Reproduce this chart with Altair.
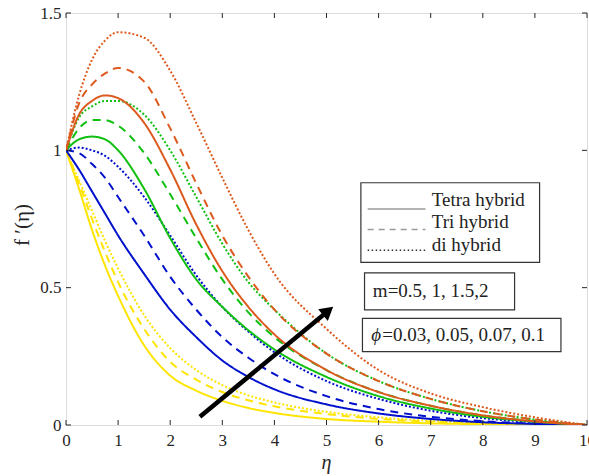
import altair as alt
import pandas as pd

# ---------------- data ----------------
eta = [0, 0.25, 0.5, 0.75, 1, 1.5, 2, 2.5, 3, 3.5, 4, 5, 6, 7, 8, 9, 10]

yellow_tetra = [1, 0.86, 0.71, 0.58, 0.47, 0.29, 0.18, 0.125, 0.088, 0.062, 0.044, 0.022, 0.012, 0.006, 0.003, 0.001, 0]
yellow_tri   = [1, 0.88, 0.75, 0.63, 0.52, 0.35, 0.23, 0.165, 0.12, 0.09, 0.068, 0.04, 0.022, 0.012, 0.006, 0.002, 0]
yellow_di    = [1, 0.89, 0.78, 0.67, 0.57, 0.40, 0.28, 0.20, 0.145, 0.108, 0.082, 0.048, 0.028, 0.015, 0.007, 0.003, 0]
blue_tetra   = [1, 0.93, 0.85, 0.77, 0.69, 0.55, 0.42, 0.32, 0.235, 0.175, 0.13, 0.075, 0.042, 0.022, 0.01, 0.004, 0]
blue_tri     = [1, 0.99, 0.95, 0.90, 0.83, 0.69, 0.54, 0.42, 0.32, 0.245, 0.185, 0.105, 0.058, 0.03, 0.014, 0.005, 0]
blue_di      = [1, 1.01, 1.0, 0.98, 0.94, 0.83, 0.69, 0.545, 0.43, 0.34, 0.265, 0.16, 0.095, 0.052, 0.025, 0.01, 0]
green_tetra  = [1, 1.04, 1.05, 1.04, 1.0, 0.86, 0.68, 0.53, 0.43, 0.345, 0.275, 0.175, 0.105, 0.06, 0.03, 0.012, 0]
green_tri    = [1, 1.08, 1.11, 1.11, 1.09, 0.99, 0.84, 0.68, 0.53, 0.41, 0.32, 0.20, 0.12, 0.07, 0.035, 0.014, 0]
green_di     = [1, 1.12, 1.16, 1.18, 1.18, 1.13, 1.0, 0.83, 0.66, 0.52, 0.42, 0.26, 0.16, 0.095, 0.05, 0.02, 0]
orange_tetra = [1, 1.13, 1.18, 1.2, 1.19, 1.1, 0.93, 0.73, 0.56, 0.43, 0.33, 0.2, 0.12, 0.07, 0.035, 0.013, 0]
orange_tri   = [1, 1.17, 1.24, 1.28, 1.30, 1.25, 1.08, 0.88, 0.69, 0.54, 0.42, 0.26, 0.16, 0.095, 0.05, 0.02, 0]
orange_di    = [1, 1.2, 1.33, 1.40, 1.43, 1.41, 1.29, 1.1, 0.9, 0.71, 0.55, 0.35, 0.2, 0.115, 0.065, 0.028, 0]

groups = ["yellow", "blue", "green", "orange"]
group_colors = ["#FFE400", "#0010CC", "#10C010", "#DD5A1E"]
styles = ["Tetra hybrid", "Tri hybrid", "di hybrid"]
style_dashes = [[1, 0], [8, 6], [2, 2]]

series = [
    ("yellow", "Tetra hybrid", yellow_tetra), ("yellow", "Tri hybrid", yellow_tri), ("yellow", "di hybrid", yellow_di),
    ("blue", "Tetra hybrid", blue_tetra), ("blue", "Tri hybrid", blue_tri), ("blue", "di hybrid", blue_di),
    ("green", "Tetra hybrid", green_tetra), ("green", "Tri hybrid", green_tri), ("green", "di hybrid", green_di),
    ("orange", "Tetra hybrid", orange_tetra), ("orange", "Tri hybrid", orange_tri), ("orange", "di hybrid", orange_di),
]

x_ticks = [0, 1, 2, 3, 4, 5, 6, 7, 8, 9, 10]
y_ticks = [0, 0.5, 1, 1.5]

# annotation geometry in data units
legend_box = {"x": [5.66], "x2": [9.09], "y": [0.882], "y2": [0.592]}
legend_items = styles
legend_line_x = [5.79, 6.90]
legend_line_y = [0.786, 0.712, 0.636]
legend_text_x = 7.02
legend_text_y = [0.819, 0.738, 0.656]

m_box = {"x": [5.73], "x2": [8.61], "y": [0.554], "y2": [0.419]}
m_text = "m=0.5, 1, 1.5,2"
m_text_pos = [5.89, 0.487]

phi_box = {"x": [5.69], "x2": [9.50], "y": [0.388], "y2": [0.267]}
phi_symbol = "ϕ"
phi_text = "=0.03, 0.05, 0.07, 0.1"
phi_symbol_pos = [5.86, 0.326]
phi_text_pos = [6.07, 0.326]

arrow_tail = [2.57, 0.03]
arrow_head = [5.03, 0.415]

# ---------------- build tables ----------------
rows = []
for g, s, vals in series:
    for x, y in zip(eta, vals):
        rows.append({"eta": x, "f": y, "group": g, "style": s, "id": g + s})
df = pd.DataFrame(rows)

FONT = "Liberation Serif"
TXT = "#262626"
W, H = 521, 412

xs = alt.Scale(domain=[0, 10], nice=False, zero=False)
ys = alt.Scale(domain=[0, 1.5], nice=False, zero=False)
x_axis = alt.Axis(values=x_ticks, format="d", title=None, grid=False, domain=False, ticks=False,
                  labelFont=FONT, labelFontSize=17, labelColor=TXT, labelPadding=7,
                  labelFlush=False, labelOverlap=False)
y_axis = alt.Axis(values=y_ticks, title=None, grid=False, domain=False, ticks=False,
                  labelFont=FONT, labelFontSize=17, labelColor=TXT, labelPadding=5,
                  labelFlush=False, labelOverlap=False,
                  labelExpr="datum.value == 0 || datum.value == 1 ? format(datum.value, 'd') : format(datum.value, '.1f')")


def X(f):
    return alt.X(f, scale=xs, axis=x_axis)


def Y(f):
    return alt.Y(f, scale=ys, axis=y_axis)


lines = alt.Chart(df).mark_line(interpolate="monotone", strokeWidth=2, clip=True).encode(
    x=X("eta:Q"), y=Y("f:Q"),
    color=alt.Color("group:N", scale=alt.Scale(domain=groups, range=group_colors), legend=None),
    strokeDash=alt.StrokeDash("style:N", scale=alt.Scale(domain=styles, range=style_dashes), legend=None),
    detail="id:N",
)

tick_df = pd.DataFrame({"t": x_ticks})
ytick_df = pd.DataFrame({"t": y_ticks})
tick_color = "#262626"
xt_bottom = alt.Chart(tick_df).mark_rule(color=tick_color).encode(x=X("t:Q"), y=alt.value(H), y2=alt.value(H - 5))
xt_top = alt.Chart(tick_df).mark_rule(color=tick_color).encode(x=X("t:Q"), y=alt.value(0), y2=alt.value(5))
yt_left = alt.Chart(ytick_df).mark_rule(color=tick_color).encode(y=Y("t:Q"), x=alt.value(0), x2=alt.value(5))
yt_right = alt.Chart(ytick_df).mark_rule(color=tick_color).encode(y=Y("t:Q"), x=alt.value(W), x2=alt.value(W - 5))


def box(d):
    return alt.Chart(pd.DataFrame(d)).mark_rect(fill="white", stroke="#333333", strokeWidth=1.2).encode(
        x=X("x:Q"), x2="x2:Q", y=Y("y:Q"), y2="y2:Q")


leg_line_colors = ["#9a9a9a", "#9a9a9a", "#333333"]
leg_line_dashes = [[1, 0], [6, 5], [1.5, 2.5]]
leg_lines = []
for i, s in enumerate(legend_items):
    d = pd.DataFrame({"x": [legend_line_x[0]], "x2": [legend_line_x[1]], "y": [legend_line_y[i]]})
    leg_lines.append(alt.Chart(d).mark_rule(color=leg_line_colors[i], strokeDash=leg_line_dashes[i],
                                            strokeWidth=1.5).encode(x=X("x:Q"), x2="x2:Q", y=Y("y:Q")))

leg_text_df = pd.DataFrame({"x": [legend_text_x] * 3, "y": legend_text_y, "label": legend_items})
leg_text = alt.Chart(leg_text_df).mark_text(align="left", baseline="middle", font=FONT, fontSize=19,
                                            color="#222222").encode(x=X("x:Q"), y=Y("y:Q"), text="label:N")


def label(txt, pos, italic=False):
    kw = dict(align="left", baseline="middle", font=FONT, fontSize=19, color="#222222")
    if italic:
        kw["fontStyle"] = "italic"
    return alt.Chart(pd.DataFrame({"x": [pos[0]], "y": [pos[1]], "t": [txt]})).mark_text(**kw).encode(
        x=X("x:Q"), y=Y("y:Q"), text="t:N")


arrow_df = pd.DataFrame({"x": [arrow_tail[0]], "y": [arrow_tail[1]], "x2": [arrow_head[0]], "y2": [arrow_head[1]]})
arrow_line = alt.Chart(arrow_df).mark_rule(color="black", strokeWidth=4.5).encode(
    x=X("x:Q"), y=Y("y:Q"), x2="x2:Q", y2="y2:Q")
arrow_tip = alt.Chart(arrow_df).mark_point(shape="triangle-up", filled=True, color="black", opacity=1,
                                           size=230, angle=50.6).encode(x=X("x2:Q"), y=Y("y2:Q"))

x_title = alt.Chart(pd.DataFrame({"t": ["η"]})).mark_text(font=FONT, fontSize=20, fontStyle="italic",
                                                          color=TXT, baseline="middle").encode(
    x=alt.value(W / 2), y=alt.value(H + 38), text="t:N")
y_title = alt.Chart(pd.DataFrame({"t": ["f ′(η)"]})).mark_text(font=FONT, fontSize=21, color=TXT,
                                                              angle=270, baseline="middle").encode(
    x=alt.value(-43), y=alt.value(H / 2 + 6), text="t:N")

chart = alt.layer(
    lines, xt_bottom, xt_top, yt_left, yt_right,
    box(legend_box), *leg_lines, leg_text,
    box(m_box), label(m_text, m_text_pos),
    box(phi_box), label(phi_symbol, phi_symbol_pos, italic=True), label(phi_text, phi_text_pos),
    arrow_line, arrow_tip, x_title, y_title,
).properties(
    width=W, height=H,
    autosize=alt.AutoSizeParams(type="none"),
    padding={"left": 66, "top": 13, "right": 2, "bottom": 51},
).configure_view(stroke="#262626", strokeWidth=1).configure(background="white")

chart.save("out.html", embed_options={"renderer": "svg", "actions": False})
